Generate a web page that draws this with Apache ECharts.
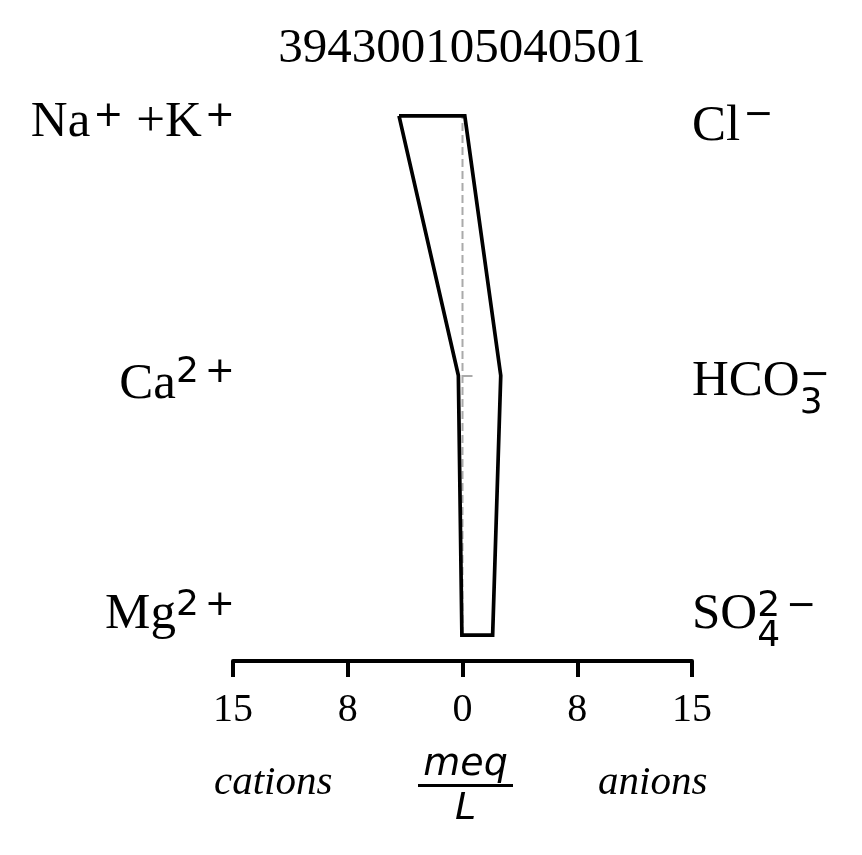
<!DOCTYPE html>
<html><head><meta charset="utf-8">
<script src="https://cdn.jsdelivr.net/npm/echarts@6/dist/echarts.min.js"></script>
<style>html,body{margin:0;padding:0;background:#fff}#c{width:862px;height:855px}</style>
</head><body><div id="c"></div>
<script>
// ---- data ----
const titleText = '394300105040501';
const rowPos = [0, 1, 2];                 // bottom -> top rows
const cationNames = ['Mg', 'Ca', 'Na+K'];
const cationValues = [0.04, 0.27, 4.15];  // meq/L
const anionNames = ['SO4', 'HCO3', 'Cl'];
const anionValues = [1.97, 2.5, 0.15];    // meq/L
const xTicks = [-15, -7.5, 0, 7.5, 15];

// ---- label token definitions (m = main, p = superscript, b = subscript) ----
const cationTokens = [
  [['m', 'Mg'], ['p', '2'], ['p', '+']],
  [['m', 'Ca'], ['p', '2'], ['p', '+']],
  [['m', 'Na'], ['p', '+'], ['m', ' +K'], ['p', '+']]
];
const anionTokens = [
  [['m', 'SO'], ['b', '4'], ['p', '2'], ['p', '−']],
  [['m', 'HCO'], ['b', '3'], ['p', '−']],
  [['m', 'Cl'], ['p', '−']]
];
const cationShift = [-20.2, 9.3, 6.8];
const anionShift = [-20.2, 6.3, 10.8];
const cationSup = [-9.3, -12.3, -6.3];
const anionSup = [-8.3, -6.3, -11.3];
const cationGap = [0, 0, 3];
const anionGap = [3, 3, 3];
const subOff = 21.7;

function pad(s) { return [Math.max(0, 2 * s), 0, Math.max(0, -2 * s), 0]; }
function buildRich(side, tokensArr, shifts, sups, gaps) {
  const rich = {};
  tokensArr.forEach((toks, i) => {
    const d = shifts[i];
    rich[side + i + 'm'] = { fontFamily: 'Liberation Serif', fontSize: 51, lineHeight: 51, color: '#000', padding: pad(d) };
    rich[side + i + 'p'] = { fontFamily: 'DejaVu Sans', fontSize: 36, lineHeight: 36, color: '#000', padding: pad(d + sups[i]) };
    rich[side + i + 'b'] = { fontFamily: 'DejaVu Sans', fontSize: 36, lineHeight: 36, color: '#000', width: 0, padding: pad(d + subOff) };
    rich[side + i + 'g'] = { fontSize: 10, lineHeight: 10, width: gaps[i], padding: pad(d) };
    rich[side + i + 'h'] = { fontSize: 10, lineHeight: 10, width: 6, padding: pad(d) };
  });
  return rich;
}
function buildText(side, tokensArr, i) {
  const toks = tokensArr[i];
  let out = '';
  toks.forEach((t, k) => {
    if (t[0] === 'p' && k > 0 && toks[k - 1][0] === 'p') out += '{' + side + i + 'h|}';
    if (t[0] === 'p' && k > 0 && toks[k - 1][0] === 'm') out += '{' + side + i + 'g|}';
    out += '{' + side + i + t[0] + '|' + t[1] + '}';
  });
  return out;
}

const polygon = [];
for (let i = rowPos.length - 1; i >= 0; i--) polygon.push([-cationValues[i], rowPos[i]]);
for (let i = 0; i < rowPos.length; i++) polygon.push([anionValues[i], rowPos[i]]);
polygon.push(polygon[0]);
const centerLine = [[0, rowPos[0]], [0, rowPos[rowPos.length - 1]]];

const yMin = -0.1, yMax = 2.1;
const serifItalic = { fontFamily: 'Liberation Serif', fontStyle: 'italic', fontSize: 41, lineHeight: 41, fontWeight: 'normal', color: '#000' };
const chart = echarts.init(document.getElementById('c'), null, { renderer: 'canvas' });
chart.setOption({
  animation: false,
  backgroundColor: '#fff',
  title: [
    { text: titleText, left: 462, top: 25, textAlign: 'center', padding: 0,
      textStyle: { fontFamily: 'Liberation Serif', fontSize: 49, lineHeight: 49, fontWeight: 'normal', color: '#000' } },
    { text: 'cations', left: 214, top: 763, padding: 0, textStyle: serifItalic },
    { text: 'anions', left: 598, top: 763, padding: 0, textStyle: serifItalic },
    { text: '{n|meq}\n{bar| }\n{d|L}', left: 465.5, top: 746, textAlign: 'center', padding: 0,
      textStyle: { fontWeight: 'normal', rich: {
        n: { fontFamily: 'DejaVu Sans', fontStyle: 'italic', fontWeight: 'normal', fontSize: 38, lineHeight: 38, color: '#000' },
        bar: { width: 95, height: 3, lineHeight: 3, fontSize: 1, backgroundColor: '#000' },
        d: { fontFamily: 'DejaVu Sans', fontStyle: 'italic', fontWeight: 'normal', fontSize: 38, lineHeight: 44, color: '#000' }
      } } }
  ],
  grid: { left: 233, right: 170, top: 90, bottom: 194 },
  xAxis: {
    type: 'value', min: xTicks[0], max: xTicks[xTicks.length - 1], interval: 7.5,
    axisLine: { show: true, onZero: false, lineStyle: { color: '#000', width: 4 } },
    axisTick: { show: true, length: 16, lineStyle: { color: '#000', width: 4 } },
    splitLine: { show: false },
    axisLabel: { margin: 29.5, fontFamily: 'Liberation Serif', fontSize: 40, lineHeight: 40, color: '#000',
      formatter: v => String(Math.round(Math.abs(v))) }
  },
  yAxis: [
    { type: 'value', min: yMin, max: yMax, position: 'left',
      axisLine: { show: false, onZero: true },
      axisTick: { show: true, inside: true, length: 10, customValues: [rowPos[1]], lineStyle: { color: '#aaaaaa', width: 2 } },
      axisLabel: { show: false }, splitLine: { show: false } },
    { type: 'value', min: yMin, max: yMax, position: 'left',
      axisLine: { show: false, onZero: false }, axisTick: { show: false }, splitLine: { show: false },
      axisLabel: { show: true, margin: -2, align: 'right', customValues: rowPos,
        formatter: v => buildText('L', cationTokens, rowPos.indexOf(Math.round(v))),
        rich: buildRich('L', cationTokens, cationShift, cationSup, cationGap) } },
    { type: 'value', min: yMin, max: yMax, position: 'right',
      axisLine: { show: false, onZero: false }, axisTick: { show: false }, splitLine: { show: false },
      axisLabel: { show: true, margin: 0, align: 'left', customValues: rowPos,
        formatter: v => buildText('R', anionTokens, rowPos.indexOf(Math.round(v))),
        rich: buildRich('R', anionTokens, anionShift, anionSup, anionGap) } }
  ],
  series: [
    { type: 'line', yAxisIndex: 0, data: centerLine, symbol: 'none', silent: true,
      lineStyle: { color: '#aaaaaa', width: 2, type: [8, 4] } },
    { type: 'line', yAxisIndex: 0, data: polygon, symbol: 'none', silent: true,
      lineStyle: { color: '#000', width: 3.7, join: 'miter' } }
  ]
});
</script>
</body></html>
